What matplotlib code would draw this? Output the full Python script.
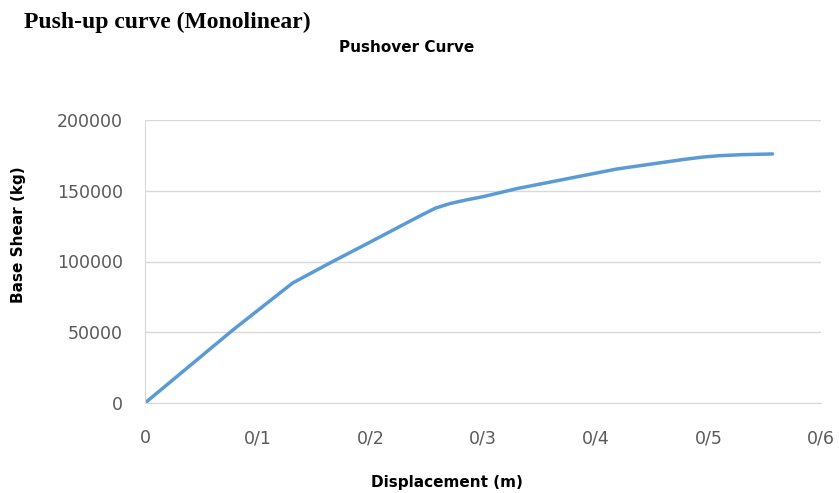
import numpy as np
import matplotlib.pyplot as plt

# Pushover curve values
disp = [0, 0.078, 0.131, 0.164, 0.2, 0.245, 0.258, 0.271, 0.285, 0.3, 0.33, 0.419, 0.477, 0.495, 0.51, 0.53, 0.557]
shear = [0, 51600, 84800, 98900, 113800, 132600, 137800, 141000, 143500, 145800, 151500, 165400, 172000, 173800, 174800, 175500, 176000]
x_ticks = [0, 0.1, 0.2, 0.3, 0.4, 0.5, 0.6]
x_labels = ['0', '0/1', '0/2', '0/3', '0/4', '0/5', '0/6']
y_ticks = [0, 50000, 100000, 150000, 200000]

fig = plt.figure(figsize=(8.39, 4.93), dpi=100)
ax = fig.add_axes([145 / 839, 1 - 403 / 493, 676 / 839, 283 / 493])

ax.plot(disp, shear, color='#5B9BD5', linewidth=2.5, solid_capstyle='round',
        solid_joinstyle='round')

ax.set_xlim(0, 0.6)
ax.set_ylim(0, 200000)
ax.set_xticks(x_ticks)
ax.set_xticklabels(x_labels)
ax.set_yticks(y_ticks)
ax.grid(axis='y', color='#D9D9D9', linewidth=1)
ax.set_axisbelow(True)
for s in ['top', 'right']:
    ax.spines[s].set_visible(False)
ax.spines['left'].set_color('#D9D9D9')
ax.spines['bottom'].set_color('#D9D9D9')
ax.tick_params(length=0, labelsize=12.5, colors='#595959')
ax.tick_params(axis='x', pad=19)
ax.tick_params(axis='y', pad=16)

ax.set_xlabel('Displacement (m)', fontsize=11, fontweight='bold')
ax.set_ylabel('Base Shear (kg)', fontsize=11, fontweight='bold')
ax.xaxis.set_label_coords((447 - 145) / 676, (403 - 482) / 283)
ax.yaxis.set_label_coords((18 - 145) / 676, (403 - 235) / 283)
ax.xaxis.label.set_va('center')
ax.yaxis.label.set_va('center')

fig.text(24 / 839, 1 - 22 / 493, 'Push-up curve (Monolinear)', family='Liberation Serif',
         fontsize=17, fontweight='bold', va='center', ha='left')
fig.text(407 / 839, 1 - 47 / 493, 'Pushover Curve', fontsize=11, fontweight='bold',
         va='center', ha='center')

plt.savefig('out.png')
